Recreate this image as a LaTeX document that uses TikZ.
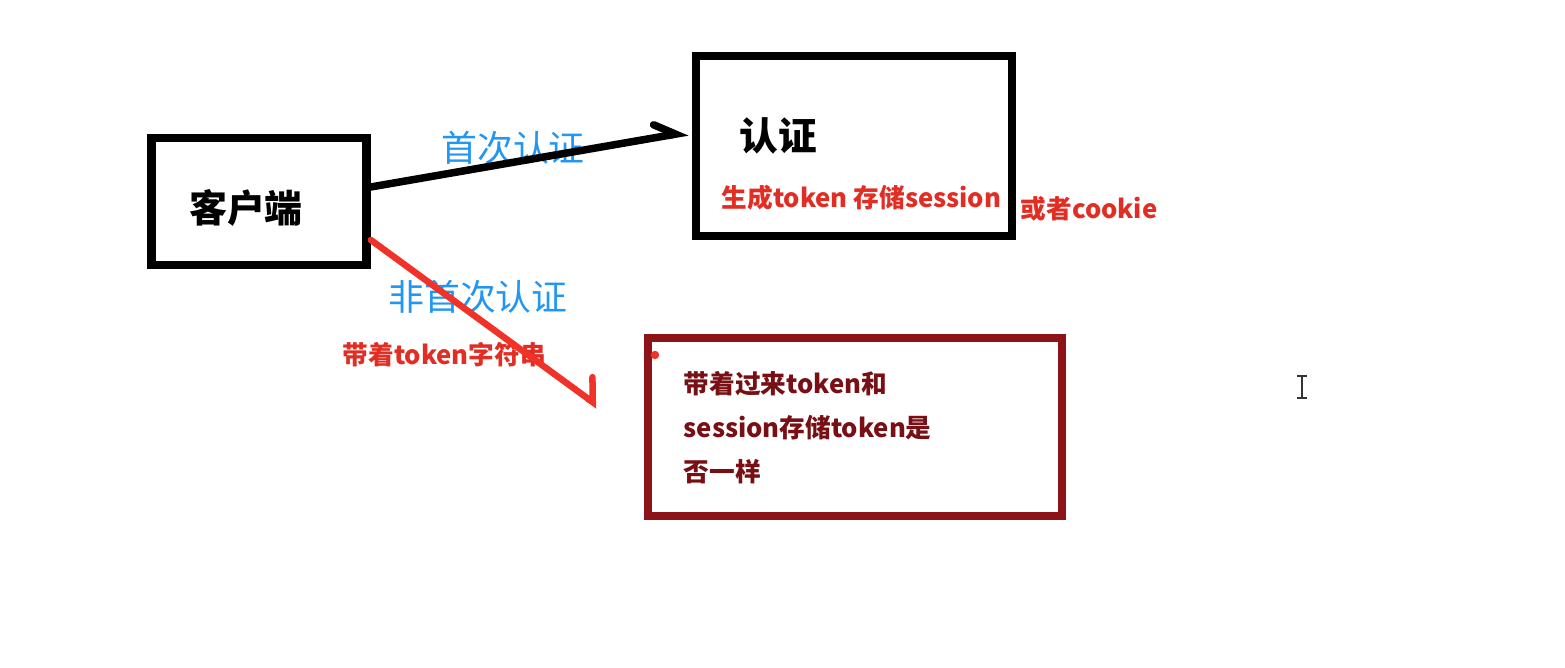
\documentclass[tikz,border=0pt]{standalone}
\usepackage{fontspec}
\newfontfamily\cjk{Noto Sans CJK SC}
\usetikzlibrary{arrows.meta,calc}
\definecolor{lblblue}{HTML}{2196F3}
\definecolor{notered}{HTML}{E12D23}
\definecolor{linered}{HTML}{F03228}
\definecolor{darkred}{HTML}{8C1419}
\definecolor{darktext}{HTML}{780F14}
\begin{document}
\begin{tikzpicture}[x=0.01cm,y=-0.01cm,
  box/.style={draw,line width=0.085cm,inner sep=0},
  title/.style={font=\cjk\bfseries\fontsize{10.8}{13}\selectfont,inner sep=0},
  lbl/.style={font=\cjk\fontsize{10.2}{12}\selectfont,text=lblblue,inner sep=0},
  note/.style={font=\cjk\bfseries\fontsize{7.3}{12.5}\selectfont,text=notered,inner sep=0,anchor=west},
  blkarrow/.style={line width=0.075cm,line cap=round,
    -{Straight Barb[harpoon,length=0.2cm 0 0,width=0.26cm 0 0,line cap=round]}},
  redarrow/.style={linered,line width=0.065cm,line cap=round,
    -{Straight Barb[harpoon,length=0.15cm 0 0,width=0.4cm 0 0,line cap=round]}}]
\useasboundingbox (0,0) rectangle (1565,668);
\node[box,minimum width=2.15cm,minimum height=1.27cm] (client) at (259,201.7) {};
\node[box,minimum width=3.16cm,minimum height=1.8cm] (auth) at (854,146) {};
\node[box,darkred,minimum width=4.14cm,minimum height=1.78cm] (check) at (855,427) {};
\node[title] (clienttxt) at (246,208) {客户端};
\node[title,font=\cjk\bfseries\fontsize{11}{13}\selectfont] (authtxt) at (778,136) {认证};
\node[lbl] (first) at (513,148) {首次认证};
\node[lbl] (notfirst) at (478,297) {非首次认证};
\node[note] (gen) at (721,198) {生成token 存储session};
\node[note] (cookie) at (1020,209) {或者cookie};
\node[note] (carry) at (342,355) {带着token字符串};
\node[note,text=darktext,align=left,anchor=north west] (cmp) at (683,371)
  {带着过来token和\\session存储token是\\否一样};
\coordinate (tip1) at (688,132);
\coordinate (tip2) at (598,406);
\draw[blkarrow] (client.east |- 0,187) -- (tip1);
\draw[redarrow] (client.east |- 0,240) -- (tip2);
\fill[linered] (655,355) circle (1.2pt);
\draw[black!80,line width=0.6pt] (1302,376) -- (1302,398)
  (1297,376) -- (1307,376) (1297,398) -- (1307,398);
\end{tikzpicture}
\end{document}
